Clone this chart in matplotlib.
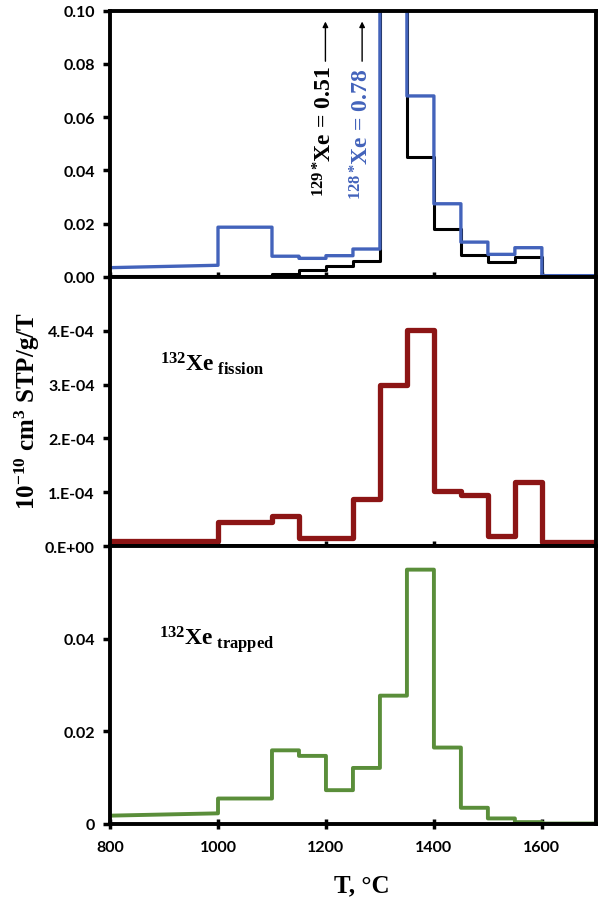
import matplotlib
matplotlib.use("Agg")
import matplotlib.pyplot as plt
from matplotlib.ticker import FuncFormatter

# step edges (deg C), shared by all three panels
temps = [800, 1000, 1100, 1150, 1200, 1250, 1300, 1350, 1400, 1450, 1500, 1550, 1600, 1700]

# top panel: 129*Xe and 128*Xe (first bin is a sloped segment, start value at 800)
xe129_start = 0.0002
xe129 = [0.0002, 0.0005, 0.0012, 0.0027, 0.0043, 0.0061, 0.51, 0.045, 0.018, 0.0084, 0.0056, 0.0075, 0.0]
xe128_start = 0.0035
xe128 = [0.0044, 0.0187, 0.0078, 0.0070, 0.0080, 0.0105, 0.78, 0.068, 0.0275, 0.0131, 0.0085, 0.0110, 0.0005]

# middle panel: 132Xe fission
fission_start = 1.0e-5
fission = [1.0e-5, 4.4e-5, 5.6e-5, 1.5e-5, 1.5e-5, 8.7e-5, 3.0e-4, 4.02e-4, 1.02e-4, 9.5e-5, 1.8e-5, 1.19e-4, 7e-6]

# bottom panel: 132Xe trapped
trapped_start = 0.0018
trapped = [0.0023, 0.0055, 0.0159, 0.0147, 0.0073, 0.0121, 0.0277, 0.0549, 0.0165, 0.0035, 0.0012, 0.0004, 0.0001]

x_ticks = [800, 1000, 1200, 1400, 1600]
SERIF = "Liberation Serif"

plt.rcParams["font.family"] = "Lato"
plt.rcParams["font.weight"] = "bold"
plt.rcParams["mathtext.fontset"] = "custom"
plt.rcParams["mathtext.rm"] = "Liberation Serif:bold"
plt.rcParams["mathtext.it"] = "Liberation Serif:italic:bold"
plt.rcParams["mathtext.bf"] = "Liberation Serif:bold"
plt.rcParams["mathtext.default"] = "rm"


def step_line(edges, vals, start):
    # first segment goes straight from start to vals[0], then flat steps
    xs = [edges[0], edges[1]]
    ys = [start, vals[0]]
    for i in range(1, len(vals)):
        xs += [edges[i], edges[i + 1]]
        ys += [vals[i], vals[i]]
    return xs, ys


def style_axes(ax):
    for sp in ax.spines.values():
        sp.set_linewidth(2.8)
    ax.set_xlim(800, 1700)
    ax.set_xticks(x_ticks)
    ax.tick_params(axis="y", direction="out", length=5, width=2.5, pad=6, labelsize=11.5)
    ax.tick_params(axis="x", direction="inout", length=7, width=2.5, pad=8, labelsize=11.5)


fig = plt.figure(figsize=(6.08, 9.04), dpi=100)
left, width = 0.181, 0.799
ax1 = fig.add_axes([left, 0.6925, width, 0.2945])
ax2 = fig.add_axes([left, 0.3949, width, 0.2976])
ax3 = fig.add_axes([left, 0.0874, width, 0.3075])

# top panel
xs, ys = step_line(temps, xe129, xe129_start)
ax1.plot(xs, ys, color="black", lw=2.2)
xs, ys = step_line(temps, xe128, xe128_start)
ax1.plot(xs, ys, color="#4363BB", lw=2.4)
ax1.set_ylim(0, 0.1)
ax1.set_yticks([0, 0.02, 0.04, 0.06, 0.08, 0.10])
ax1.yaxis.set_major_formatter(FuncFormatter(lambda v, p: f"{v:.2f}"))
ax1.text(1198, 0.055, r"$^{129*}\!$Xe = 0.51", rotation=90, ha="center", va="center",
         family=SERIF, fontsize=17, color="black")
ax1.text(1266, 0.054, r"$^{128*}\!$Xe = 0.78", rotation=90, ha="center", va="center",
         family=SERIF, fontsize=17, color="#4363BB")
for tx in [1199, 1267]:
    ax1.annotate("", xy=(tx, 0.097), xytext=(tx, 0.080),
                 arrowprops=dict(arrowstyle="-|>", lw=1.0, color="black", mutation_scale=8))
ax1.tick_params(axis="x", labelbottom=False)
style_axes(ax1)

# middle panel
xs, ys = step_line(temps, fission, fission_start)
ax2.plot(xs, ys, color="#8C1515", lw=3.8)
ax2.set_ylim(0, 5e-4)
ax2.set_yticks([0, 1e-4, 2e-4, 3e-4, 4e-4])
ax2.yaxis.set_major_formatter(FuncFormatter(lambda v, p: f"{v:#.0E}"))
ax2.text(893, 3.27e-4, r"$^{132}$Xe$_{\ \mathrm{fission}}$", ha="left", va="baseline",
         family=SERIF, fontsize=17)
ax2.tick_params(axis="x", labelbottom=False)
style_axes(ax2)

# bottom panel
xs, ys = step_line(temps, trapped, trapped_start)
ax3.plot(xs, ys, color="#5A8E3A", lw=2.8)
ax3.set_ylim(0, 0.06)
ax3.set_yticks([0, 0.02, 0.04])
ax3.yaxis.set_major_formatter(FuncFormatter(lambda v, p: "0" if v == 0 else f"{v:.2f}"))
ax3.text(891, 0.0388, r"$^{132}$Xe$_{\ \mathrm{trapped}}$", ha="left", va="baseline",
         family=SERIF, fontsize=17)
style_axes(ax3)

fig.text(0.045, 0.545, r"10$^{-10}$ cm$^{3}$ STP/g/T", rotation=90, ha="center", va="center",
         family=SERIF, fontsize=18, fontweight="bold")
fig.text(0.595, 0.02, "T, °C", ha="center", va="center", family=SERIF, fontsize=18, fontweight="bold")

fig.savefig("out.png", dpi=100)
